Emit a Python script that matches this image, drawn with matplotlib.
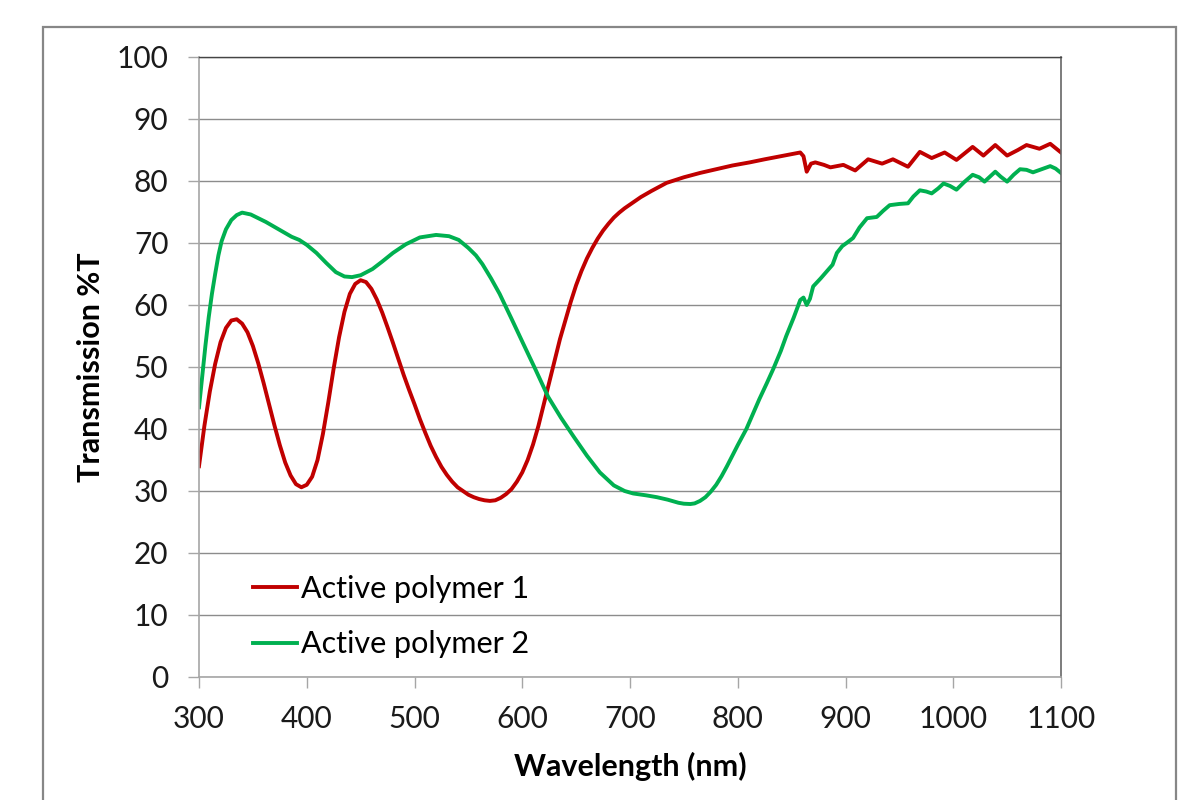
import matplotlib
matplotlib.use("Agg")
import matplotlib.pyplot as plt
from matplotlib.patches import Rectangle

plt.rcParams['font.family'] = ['Lato', 'DejaVu Sans']

# Active polymer 1 (red)
wl1 = [300, 305, 310, 315, 320, 325, 330, 335, 340, 345, 350, 355, 360, 365, 370, 375,
       380, 385, 390, 395, 400, 405, 410, 415, 420, 425, 430, 435, 440, 445, 450, 455,
       460, 465, 470, 475, 480, 485, 490, 495, 500, 505, 510, 515, 520, 525, 530, 535,
       540, 545, 550, 555, 560, 565, 570, 575, 580, 585, 590, 595, 600, 605, 610, 615,
       620, 625, 630, 635, 640, 645, 650, 655, 660, 665, 670, 675, 680, 685, 690, 695,
       700, 710, 720, 734, 750, 765, 780, 795, 811, 825, 840, 852, 858, 861, 864, 868,
       872, 880, 886, 898, 909, 921, 934, 944, 958, 969, 980, 992, 1003, 1018, 1028, 1039,
       1050, 1060, 1068, 1080, 1090, 1100]
t1 = [34, 40.5, 46, 50.5, 54, 56.3, 57.5, 57.7, 57, 55.6, 53.4, 50.6, 47.4, 44, 40.6, 37.4,
      34.6, 32.5, 31.1, 30.6, 31.0, 32.3, 35.0, 39.2, 44.3, 49.8, 54.8, 58.9, 61.8, 63.4, 64, 63.7,
      62.6, 60.9, 58.8, 56.4, 53.9, 51.3, 48.7, 46.3, 44, 41.6, 39.4, 37.3, 35.5, 33.9, 32.6, 31.5,
      30.6, 30.0, 29.4, 29.0, 28.7, 28.5, 28.4, 28.5, 28.9, 29.5, 30.3, 31.5, 33, 35, 37.5, 40.5,
      44, 47.5, 51, 54.5, 57.5, 60.5, 63.2, 65.5, 67.5, 69.2, 70.7, 72, 73.1, 74.1, 74.9, 75.6,
      76.2, 77.4, 78.4, 79.7, 80.6, 81.3, 81.9, 82.5, 83, 83.5, 84, 84.4, 84.6, 84.0, 81.5, 82.8,
      83, 82.6, 82.2, 82.6, 81.7, 83.5, 82.8, 83.5, 82.3, 84.7, 83.7, 84.6, 83.4, 85.5, 84.1, 85.8,
      84.1, 85.0, 85.8, 85.2, 86.0, 84.6]

# Active polymer 2 (green)
wl2 = [300, 303, 306, 309, 312, 315, 318, 321, 325, 330, 335, 340, 348, 355, 362, 370,
       378, 386, 393, 400, 409, 418, 427, 435, 442, 450, 461, 470, 480, 492, 505, 520,
       532, 541, 550, 557, 563, 571, 579, 590, 600, 612, 624, 636, 648, 660, 672, 685,
       695, 703, 715, 725, 735, 745, 750, 756, 760, 765, 770, 775, 780, 785, 790, 795,
       800, 808, 815, 820, 827, 833, 840, 845, 852, 858, 861, 864, 867, 870, 877, 883,
       888, 892, 897, 901, 907, 913, 920, 929, 935, 941, 950, 958, 963, 969, 975, 980,
       986, 991, 997, 1003, 1010, 1018, 1024, 1029, 1034, 1039, 1044, 1050, 1056, 1062, 1068, 1074,
       1082, 1090, 1095, 1100]
t2 = [43.5, 48.5, 53.5, 58, 61.8, 65, 68, 70.3, 72.2, 73.7, 74.5, 74.9, 74.6, 74, 73.4, 72.6,
      71.8, 71.0, 70.5, 69.7, 68.4, 66.8, 65.3, 64.6, 64.5, 64.8, 65.8, 67, 68.4, 69.8, 70.9, 71.3,
      71.1, 70.5, 69.2, 68.0, 66.6, 64.3, 61.8, 57.8, 54.1, 49.7, 45.2, 41.8, 38.7, 35.7, 33.0, 30.9,
      30.0, 29.6, 29.3, 29.0, 28.6, 28.1, 27.95, 27.9, 28.0, 28.4, 29.0, 29.9, 31.0, 32.4, 34.0, 35.7,
      37.4, 40.0, 42.8, 44.8, 47.4, 49.7, 52.6, 55, 58, 60.8, 61.2, 60.0, 61, 63, 64.3, 65.5,
      66.5, 68.4, 69.5, 70, 70.8, 72.5, 74.0, 74.2, 75.2, 76.1, 76.3, 76.4, 77.5, 78.5, 78.3, 78.0,
      78.8, 79.6, 79.2, 78.6, 79.8, 81.0, 80.6, 79.9, 80.7, 81.5, 80.7, 79.9, 81.0, 81.9, 81.8, 81.4,
      81.9, 82.4, 82, 81.3]

labels = ['Active polymer 1', 'Active polymer 2']
colors = ['#C00000', '#00B050']
xticks = list(range(300, 1101, 100))
yticks = list(range(0, 101, 10))

fig = plt.figure(figsize=(11.89, 8.0), dpi=100)
fig.patch.set_facecolor('white')

# outer chart-area border
fig.add_artist(Rectangle((43 / 1189, -0.01), (1176 - 43) / 1189, 1 - 27 / 800 + 0.01,
                         transform=fig.transFigure, fill=False, edgecolor='#878787',
                         linewidth=1.6, zorder=0))

ax = fig.add_axes([199 / 1189, 1 - 677 / 800, (1061 - 199) / 1189, (677 - 57) / 800])
ax.plot(wl1, t1, color=colors[0], linewidth=2.8, label=labels[0], solid_joinstyle='round')
ax.plot(wl2, t2, color=colors[1], linewidth=2.8, label=labels[1], solid_joinstyle='round')

ax.set_xlim(300, 1100)
ax.set_ylim(0, 100)
ax.set_xticks(xticks)
ax.set_yticks(yticks)
ax.grid(axis='y', color='#8C8C8C', linewidth=1.0)
ax.set_axisbelow(True)
for side in ['left', 'bottom']:
    ax.spines[side].set_color('#A6A6A6')
    ax.spines[side].set_linewidth(1.2)
ax.spines['top'].set_color('#444444')
ax.spines['top'].set_linewidth(1.0)
ax.spines['right'].set_color('#666666')
ax.spines['right'].set_linewidth(1.2)
ax.tick_params(axis='both', direction='out', length=8, width=1.0, color='#A6A6A6',
               labelsize=21.5, labelcolor='#1a1a1a')
ax.tick_params(axis='y', pad=14)
ax.tick_params(axis='x', pad=12)

ax.set_xlabel('Wavelength (nm)', fontsize=22, fontweight='bold', labelpad=14)
ax.set_ylabel('Transmission %T', fontsize=22, fontweight='bold', labelpad=8)

leg = ax.legend(loc='lower left', bbox_to_anchor=(0.0485, 0.0105), borderaxespad=0,
                frameon=False, fontsize=22, handlelength=1.45, handletextpad=0.12,
                labelspacing=0.9)

fig.savefig('out.png', dpi=100, facecolor='white')
